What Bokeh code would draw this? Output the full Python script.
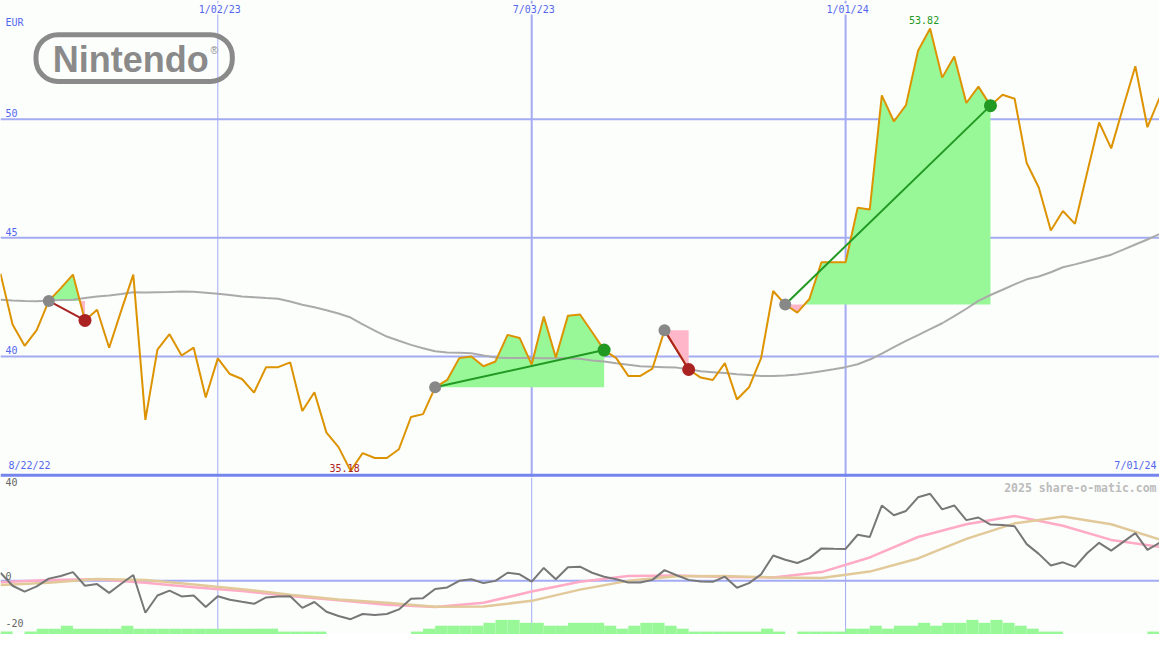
import numpy as np
import pandas as pd
from bokeh.plotting import figure
from bokeh.models import Range1d, Span, BoxAnnotation, Label
from bokeh.layouts import column
from bokeh.embed import file_html
from bokeh.resources import INLINE
from bokeh.core.properties import value

# ---------------- data ----------------
start_date = "2022-08-29"
n_weeks = 97
dates = pd.date_range(start_date, periods=n_weeks, freq="7D")

price = [
    43.49, 41.35, 40.45, 41.11, 42.34, 42.88, 43.45, 41.52, 41.97, 40.37,
    41.93, 43.45, 37.33, 40.29, 40.94, 40.04, 40.37, 38.27, 39.92, 39.26,
    39.05, 38.48, 39.55, 39.55, 39.75, 37.70, 38.49, 36.79, 36.18, 35.18,
    35.93, 35.72, 35.72, 36.09, 37.45, 37.57, 38.70, 39.01, 39.93, 40.00,
    39.59, 39.79, 40.91, 40.78, 39.66, 41.68, 39.96, 41.72, 41.77, 41.03,
    40.27, 39.93, 39.18, 39.18, 39.49, 41.10, 40.29, 39.45, 39.11, 39.01,
    39.72, 38.19, 38.70, 39.93, 42.76, 42.19, 41.85, 42.42, 43.97, 43.97,
    43.97, 46.27, 46.19, 51.00, 49.90, 50.59, 52.88, 53.82, 51.75, 52.64,
    50.68, 51.37, 50.57, 51.03, 50.86, 48.15, 47.12, 45.31, 46.13, 45.59,
    47.73, 49.86, 48.77, 50.52, 52.23, 49.66, 50.89,
]

moving_avg = [
    42.39, 42.36, 42.34, 42.33, 42.36, 42.38, 42.39, 42.46, 42.53, 42.57,
    42.63, 42.71, 42.70, 42.71, 42.72, 42.74, 42.73, 42.69, 42.64, 42.59,
    42.53, 42.50, 42.46, 42.43, 42.32, 42.18, 42.07, 41.95, 41.81, 41.64,
    41.35, 41.09, 40.84, 40.66, 40.49, 40.35, 40.22, 40.17, 40.16, 40.14,
    40.04, 39.96, 39.94, 39.94, 39.94, 39.93, 39.93, 39.93, 39.90, 39.83,
    39.79, 39.71, 39.65, 39.59, 39.57, 39.55, 39.53, 39.46, 39.38, 39.34,
    39.30, 39.25, 39.22, 39.18, 39.18, 39.20, 39.24, 39.30, 39.38, 39.46,
    39.55, 39.67, 39.87, 40.12, 40.39, 40.66, 40.90, 41.15, 41.40, 41.70,
    42.01, 42.34, 42.59, 42.81, 43.04, 43.25, 43.37, 43.55, 43.76, 43.88,
    44.01, 44.15, 44.29, 44.50, 44.72, 44.93, 45.16,
]

oscillator = [
    3.46, -2.08, -4.58, -2.38, 0.96, 2.08, 3.75, -2.08, -1.38, -5.13,
    -1.25, 2.50, -13.63, -6.25, -4.17, -6.67, -6.25, -11.13, -6.54, -8.04,
    -8.96, -9.79, -7.08, -6.67, -6.54, -11.54, -9.04, -13.21, -15.00, -16.38,
    -14.17, -14.58, -14.17, -12.21, -7.63, -7.38, -3.46, -2.79, 0.00, 0.71,
    -0.96, 0.00, 3.46, 2.79, -0.29, 5.54, 0.71, 5.83, 6.04, 3.46,
    1.79, 0.71, -0.71, -0.71, 0.42, 4.58, 2.38, 0.42, -0.29, -0.42,
    1.79, -2.92, -0.96, 2.79, 10.83, 9.04, 7.63, 9.71, 13.88, 13.75,
    13.63, 19.71, 18.75, 32.21, 28.04, 29.88, 35.71, 37.21, 30.54, 32.21,
    25.96, 27.08, 24.04, 23.88, 23.33, 15.71, 11.54, 6.54, 7.92, 5.96,
    11.79, 16.25, 12.92, 16.67, 20.42, 13.21, 16.25,
]

# smoothed signal lines, read every 4 weeks
signal_fast = [
    -0.63, 0.42, 0.71, -0.83, -2.71, -4.38, -6.46, -8.33, -10.21, -11.13,
    -9.38, -4.58, -0.42, 2.08, 2.29, 1.67, 1.46, 3.75, 10.00, 18.75,
    24.17, 27.71, 23.54, 17.50, 14.58,
]
signal_slow = [
    -1.79, -0.83, 0.83, 0.42, -1.54, -3.54, -5.96, -7.92, -9.38, -11.04,
    -10.96, -8.54, -3.75, 0.00, 1.96, 2.08, 1.46, 1.25, 3.96, 9.58,
    17.92, 24.58, 27.50, 24.17, 17.71,
]

volume = [
    1, 0, 1, 2, 2, 3, 2, 2, 2, 2,
    3, 2, 2, 2, 2, 2, 2, 2, 2, 2,
    2, 2, 2, 1, 1, 1, 1, 0, 0, 0,
    0, 0, 0, 0, 1, 2, 3, 3, 3, 3,
    4, 5, 5, 4, 4, 3, 3, 4, 4, 4,
    3, 2, 3, 4, 4, 3, 2, 1, 1, 1,
    1, 1, 1, 2, 1, 0, 1, 1, 1, 1,
    2, 2, 3, 2, 3, 3, 4, 3, 4, 4,
    5, 4, 5, 4, 3, 2, 1, 1, 0, 0,
    0, 0, 0, 0, 0, 1, 0,
]

trade_entry = ["2022-09-26", "2023-05-08", "2023-09-18", "2023-11-27"]
trade_exit = ["2022-10-17", "2023-08-14", "2023-10-02", "2024-03-25"]

grid_dates = ["2023-01-02", "2023-07-03", "2024-01-01"]
grid_labels = ["1/02/23", "7/03/23", "1/01/24"]
first_label = "8/22/22"
last_label = "7/01/24"
currency = "EUR"
price_ticks = [40, 45, 50]
osc_ticks = [40, 0, -20]
watermark = "2025 share-o-matic.com"

# ---------------- style ----------------
BG = "#fcfefc"
GRID = "#a3abf3"
BORDER = "#7585ee"
BLUE_TXT = "#5566ee"
ORANGE = "#dd9300"
MA_GRAY = "#aaaaaa"
GREEN_FILL = "#98f898"
PINK_FILL = "#ffb6c8"
WIN = "#229922"
LOSS = "#aa2222"
MONO = value("DejaVu Sans Mono")

W = 1159
H1 = 477
H2 = 157
SX = W / 1175.0
SY = (H1 + H2) / 650.0


def to_ms(d):
    return pd.to_datetime(d).values.astype("datetime64[ms]").astype("int64").astype(float)


xs = to_ms(dates)
price_a = np.array(price, dtype=float)
week_ms = 7 * 24 * 3600 * 1000.0

x_range = Range1d(xs[0], xs[-1])

# ---------------- price panel ----------------
p = figure(width=W, height=H1, x_range=x_range, y_range=Range1d(34.9, 55.0),
           x_axis_type="datetime", x_axis_location=None, y_axis_location=None,
           output_backend="svg", toolbar_location=None, min_border=0,
           background_fill_color=BG, border_fill_color=BG, outline_line_color=None)
p.grid.visible = False

for t in price_ticks:
    p.add_layout(Span(location=t, dimension="width", line_color=GRID,
                      line_width=2, level="underlay"))
for d, lw in zip(to_ms(grid_dates), [1, 2, 2]):
    p.add_layout(Span(location=d, dimension="height", line_color=GRID,
                      line_width=lw, level="underlay"))


def split_fill(x, y, level):
    X = [x[0]]
    Y = [y[0]]
    for k in range(1, len(x)):
        a, b = y[k - 1] - level, y[k] - level
        if a * b < 0:
            t = a / (a - b)
            X.append(x[k - 1] + t * (x[k] - x[k - 1]))
            Y.append(level)
        X.append(x[k])
        Y.append(y[k])
    X = np.array(X)
    Y = np.array(Y)
    return X, np.maximum(Y, level), np.minimum(Y, level)


entry_idx = [dates.get_loc(pd.Timestamp(d)) for d in trade_entry]
exit_idx = [dates.get_loc(pd.Timestamp(d)) for d in trade_exit]

for i0, i1 in zip(entry_idx, exit_idx):
    lvl = price_a[i0]
    X, up, dn = split_fill(xs[i0:i1 + 1], price_a[i0:i1 + 1], lvl)
    p.varea(x=X, y1=np.full_like(X, lvl), y2=up, fill_color=GREEN_FILL)
    p.varea(x=X, y1=dn, y2=np.full_like(X, lvl), fill_color=PINK_FILL)

p.line(xs, moving_avg, line_color=MA_GRAY, line_width=2)
p.line(xs, price_a, line_color=ORANGE, line_width=2)

for i0, i1 in zip(entry_idx, exit_idx):
    col = WIN if price_a[i1] >= price_a[i0] else LOSS
    p.line([xs[i0], xs[i1]], [price_a[i0], price_a[i1]], line_color=col, line_width=2)
    p.scatter([xs[i0]], [price_a[i0]], size=12, fill_color="#888888", line_color=None)
    p.scatter([xs[i1]], [price_a[i1]], size=13, fill_color=col, line_color=None)

# bottom border of the price panel
p.add_layout(Span(location=35, dimension="width", line_color=BORDER, line_width=3))

# texts
txt = dict(text_font=MONO, text_font_size="10px", text_color=BLUE_TXT)
p.text(x=[xs[0]] * len(price_ticks), y=price_ticks, text=[str(t) for t in price_ticks],
       x_offset=5, y_offset=-2, text_baseline="bottom", **txt)
p.text(x=[xs[0]], y=[55.0], text=[currency], x_offset=5, y_offset=16,
       text_baseline="top", **txt)
p.text(x=list(to_ms(grid_dates)), y=[55.0] * 3, text=grid_labels, x_offset=2, y_offset=3,
       text_align="center", text_baseline="top", background_fill_color=BG, **txt)
p.text(x=[xs[0]], y=[35.0], text=[first_label], x_offset=8, y_offset=-4,
       text_baseline="bottom", **txt)
p.text(x=[xs[-1]], y=[35.0], text=[last_label], x_offset=-3, y_offset=-4,
       text_align="right", text_baseline="bottom", **txt)

imax = int(np.argmax(price_a))
imin = int(np.argmin(price_a))
p.text(x=[xs[imax]], y=[price_a[imax]], text=[f"{price_a[imax]:.2f}"], x_offset=-6,
       y_offset=-5, text_align="center", text_baseline="bottom", text_font=MONO,
       text_font_size="10px", text_color=WIN)
p.text(x=[xs[imin]], y=[price_a[imin]], text=[f"{price_a[imin]:.2f}"], x_offset=-6,
       y_offset=-3, text_align="center", text_baseline="middle", text_font=MONO,
       text_font_size="10px", text_color=LOSS)

# Nintendo logo
LOGO = "#8a8a8a"
p.add_layout(BoxAnnotation(left=36 * SX, right=235 * SX, top=H1 - 35 * SY, bottom=H1 - 83 * SY,
                           left_units="screen", right_units="screen",
                           top_units="screen", bottom_units="screen",
                           fill_alpha=0, line_color=LOGO, line_alpha=1.0, line_width=5,
                           border_radius=22, level="overlay"))
p.add_layout(Label(x=53 * SX, y=H1 - 60 * SY, x_units="screen", y_units="screen",
                   text="Nintendo", text_font="Liberation Sans", text_font_size="36px",
                   text_font_style="bold", text_color=LOGO, text_baseline="middle"))
p.add_layout(Label(x=213 * SX, y=H1 - 51.5 * SY, x_units="screen", y_units="screen",
                   text="®", text_font="Liberation Sans", text_font_size="10px",
                   text_color=LOGO, text_baseline="middle"))

# ---------------- oscillator panel ----------------
q = figure(width=W, height=H2, x_range=x_range, y_range=Range1d(-22.92, 44.17),
           x_axis_type="datetime", x_axis_location=None, y_axis_location=None,
           output_backend="svg", toolbar_location=None, min_border=0,
           background_fill_color=BG, border_fill_color=BG, outline_line_color=None)
q.grid.visible = False
q.extra_y_ranges = {"vol": Range1d(0, 53.7)}

q.add_layout(Span(location=0, dimension="width", line_color=GRID, line_width=2, level="underlay"))
for d in to_ms(grid_dates):
    q.add_layout(Span(location=d, dimension="height", line_color=GRID, line_width=1,
                      level="underlay"))

q.quad(left=xs, right=xs + week_ms, bottom=0, top=volume,
       y_range_name="vol", fill_color=GREEN_FILL, line_color=None)

sig_x = xs[::4]
q.line(sig_x, signal_fast, line_color="#ffaac6", line_width=2.5)
q.line(sig_x, signal_slow, line_color="#e2c99a", line_width=2.5)
q.line(xs, oscillator, line_color="#777777", line_width=2)

q.text(x=[xs[0]] * len(osc_ticks), y=osc_ticks, text=[str(t) for t in osc_ticks],
       x_offset=5, y_offset=-1, text_baseline="bottom", text_font=MONO,
       text_font_size="10px", text_color="#666666")
q.text(x=[xs[-1]], y=[44.17], text=[watermark], x_offset=-3, y_offset=3,
       text_align="right", text_baseline="top", text_font=MONO, text_font_size="11.5px",
       text_font_style="bold", text_color="#bbbbbb")

layout = column(p, q, spacing=0)
open("out.html", "w").write(file_html(layout, INLINE, title="Nintendo"))
